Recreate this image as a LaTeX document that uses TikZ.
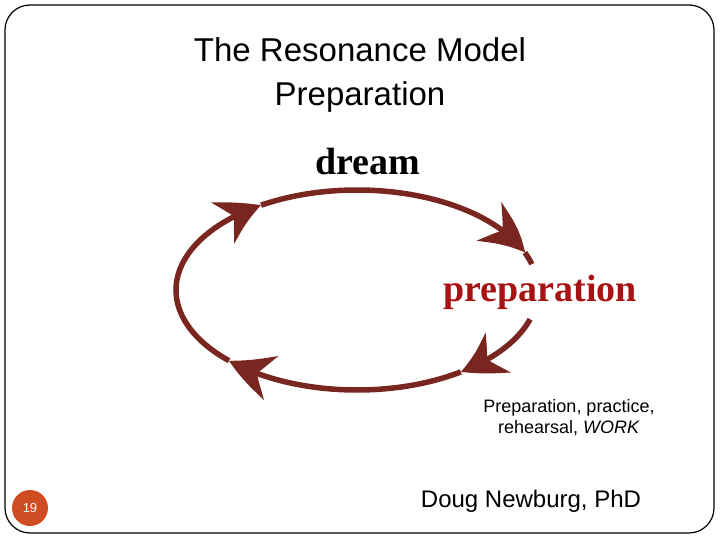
\documentclass[tikz,border=0pt]{standalone}
\usepackage{fontspec}
\setmainfont{Liberation Serif}
\newfontfamily\arialf{Liberation Sans}
\usetikzlibrary{arrows.meta,bending}
\definecolor{loopc}{RGB}{122,38,32}
\definecolor{prepc}{RGB}{168,18,18}
\definecolor{pagec}{RGB}{208,76,34}
\begin{document}
\begin{tikzpicture}[x=1pt,y=-1pt,
  loopline/.style={draw=loopc,line width=5.5pt},
  looparrow/.style={loopline,-{Stealth[length=44pt,width=46pt,inset=14pt,bend]}},
  titletext/.style={font=\arialf\fontsize{33}{45}\selectfont,align=center,inner sep=0pt},
  bigword/.style={font=\bfseries\fontsize{38}{40}\selectfont,inner sep=0pt,anchor=base},
  smalltext/.style={font=\arialf\fontsize{18}{21}\selectfont,align=center,inner sep=0pt},
  authortext/.style={font=\arialf\fontsize{24}{28}\selectfont,inner sep=0pt,anchor=base}]
\useasboundingbox (0,0) rectangle (720,540);
\fill[white] (0,0) rectangle (720,540);
\draw[line width=1.2pt,rounded corners=25pt] (5,5) rectangle (714,533);

% title
\node[titletext,anchor=base] (t1) at (360,62) {The Resonance Model};
\node[titletext,anchor=base] (t2) at (360,106) {Preparation};

% words
\node[bigword] (dream) at (368,175) {dream};
\node[bigword,text=prepc] (prep) at (540,301) {preparation};

% loop
\coordinate (c) at (357,290);
\path (c) ++(17:181 and 100) coordinate (a0);
\path (c) ++(55:181 and 100) coordinate (a1);
\path (c) ++(135:181 and 100) coordinate (a2);
\path (c) ++(238:181 and 100) coordinate (a3);
\path (c) ++(338:181 and 100) coordinate (a4);
\draw[looparrow] (a0) arc[start angle=17,end angle=55,x radius=181,y radius=100];
\draw[looparrow] (a1) arc[start angle=55,end angle=135,x radius=181,y radius=100];
\draw[looparrow] (a2) arc[start angle=135,end angle=238,x radius=181,y radius=100];
\draw[looparrow] (a3) arc[start angle=238,end angle=338,x radius=181,y radius=100];
\draw[loopline] (a4) arc[start angle=338,end angle=345,x radius=181,y radius=100];

% captions
\node[smalltext,anchor=base] (cap1) at (569,412) {Preparation, practice,};
\node[smalltext,anchor=base] (cap2) at (569,433) {rehearsal, \textit{WORK}};
\node[authortext] (auth) at (531,507) {Doug Newburg, PhD};

% page number
\node[circle,fill=pagec,minimum size=36pt,inner sep=0pt,text=white,font=\arialf\fontsize{13}{15}\selectfont] (pg) at (30,508) {19};
\end{tikzpicture}
\end{document}
